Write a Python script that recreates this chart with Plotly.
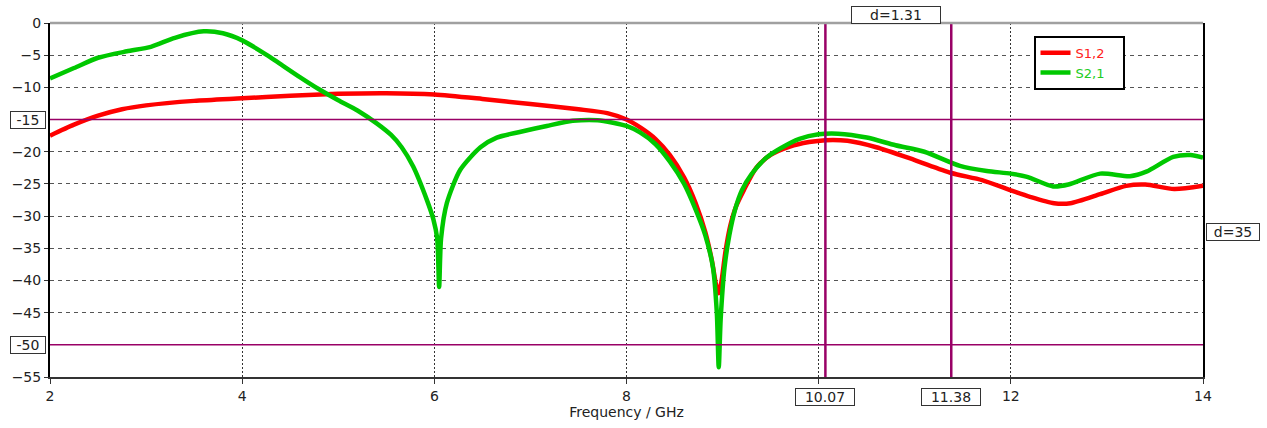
import plotly.graph_objects as go

# ---- data ----
freq_s12 = [2.0, 2.25, 2.5, 2.75, 3.0, 3.5, 4.0, 4.5, 5.0, 5.5, 6.0, 6.5, 7.0, 7.5, 7.8, 8.0,
            8.15, 8.3, 8.45, 8.6, 8.72, 8.82, 8.89, 8.93, 8.96, 8.99, 9.03, 9.08, 9.14, 9.22,
            9.35, 9.5, 9.7, 9.9, 10.07, 10.3, 10.6, 11.0, 11.38, 11.7, 12.0, 12.2, 12.45,
            12.62, 12.93, 13.2, 13.4, 13.7, 14.0]
s12 = [-17.5, -15.8, -14.4, -13.4, -12.8, -12.1, -11.7, -11.3, -11.0, -10.9, -11.1, -11.8,
       -12.6, -13.4, -14.0, -15.0, -16.3, -18.0, -20.5, -24.0, -28.0, -32.5, -37.0, -40.5,
       -42.0, -40.0, -35.5, -31.5, -28.5, -26.0, -22.5, -20.5, -19.2, -18.5, -18.2, -18.3,
       -19.3, -21.3, -23.3, -24.4, -26.0, -27.0, -28.0, -28.0, -26.6, -25.3, -25.1, -25.8,
       -25.3]

freq_s21 = [2.0, 2.25, 2.5, 2.8, 3.05, 3.3, 3.6, 3.8, 4.0, 4.25, 4.4, 4.6, 4.8, 5.0, 5.2,
            5.4, 5.55, 5.66, 5.78, 5.92, 5.99, 6.03, 6.05, 6.07, 6.13, 6.27, 6.48, 6.65,
            6.9, 7.17, 7.44, 7.7, 7.86, 8.0, 8.14, 8.3, 8.45, 8.6, 8.72, 8.82, 8.9, 8.94,
            8.96, 8.98, 9.02, 9.07, 9.13, 9.2, 9.3, 9.45, 9.6, 9.8, 10.0, 10.2, 10.5, 10.8,
            11.1, 11.47, 11.75, 12.0, 12.17, 12.44, 12.6, 12.93, 13.24, 13.41, 13.69, 13.87,
            14.0]
s21 = [-8.6, -7.0, -5.4, -4.4, -3.7, -2.3, -1.3, -1.6, -2.7, -4.9, -6.4, -8.4, -10.3, -12.0,
       -13.6, -15.6, -17.4, -19.3, -22.3, -27.4, -30.5, -33.5, -41.0, -33.5, -28.0, -22.8,
       -19.3, -17.8, -16.9, -16.0, -15.2, -15.1, -15.5, -16.0, -17.0, -18.8, -21.5, -25.0,
       -29.0, -33.0, -38.0, -45.0, -53.5, -46.0, -38.0, -33.0, -29.0, -26.0, -23.5, -21.0,
       -19.5, -18.0, -17.3, -17.2, -17.8, -19.0, -20.0, -22.2, -23.0, -23.4, -23.9, -25.4,
       -25.1, -23.4, -23.8, -23.1, -20.8, -20.5, -20.9]

x_ticks = [2, 4, 6, 8, 10, 12, 14]
x_tick_text = ["2", "4", "6", "8", "", "12", "14"]
y_ticks = [0, -5, -10, -20, -25, -30, -35, -40, -45, -55]

marker_x = [10.07, 11.38]
marker_y = [-15, -50]

FONT = "DejaVu Sans"
PURPLE = "#990066"
NB = "\u00a0"

fig = go.Figure()
fig.add_trace(go.Scatter(x=freq_s12, y=s12, mode="lines",
                         name="<span style='color:#ff2020'>S1,2</span>" + NB * 3,
                         line=dict(color="#ff0000", width=4.5, shape="spline", smoothing=0.7)))
fig.add_trace(go.Scatter(x=freq_s21, y=s21, mode="lines",
                         name="<span style='color:#22cc22'>S2,1</span>" + NB * 3,
                         line=dict(color="#00c800", width=4.5, shape="spline", smoothing=0.7)))

# marker lines
for mx in marker_x:
    fig.add_shape(type="line", xref="x", yref="paper", x0=mx, x1=mx, y0=0, y1=1,
                  line=dict(color=PURPLE, width=2.5), layer="above")
for my in marker_y:
    fig.add_shape(type="line", xref="paper", yref="y", x0=0, x1=1, y0=my, y1=my,
                  line=dict(color=PURPLE, width=1.5), layer="above")
# top border (gray)
fig.add_shape(type="line", xref="paper", yref="paper", x0=0, x1=1, y0=1, y1=1,
              line=dict(color="#a0a0a0", width=2.5))

box = dict(bordercolor="#333333", borderwidth=1, borderpad=1, bgcolor="white",
           font=dict(family=FONT, size=14, color="#222222"), showarrow=False,
           height=14, align="center")
for mx in marker_x:
    fig.add_annotation(x=mx, y=0, xref="x", yref="paper", yshift=-20, width=56,
                       text=f"{mx:.2f}", xanchor="center", yanchor="middle", **box)
for my in marker_y:
    fig.add_annotation(x=0, y=my, xref="paper", yref="y", xshift=-22, width=32,
                       text=f"{my}", xanchor="center", yanchor="middle", **box)
fig.add_annotation(x=(marker_x[0] + marker_x[1]) / 2, y=1, xref="x", yref="paper",
                   xshift=8, yshift=8, width=86, text=f"d={marker_x[1] - marker_x[0]:.2f}",
                   xanchor="center", yanchor="middle", **box)
fig.add_annotation(x=1, y=(marker_y[0] + marker_y[1]) / 2, xref="paper", yref="y",
                   xshift=30, width=50, text=f"d={abs(marker_y[0] - marker_y[1])}",
                   xanchor="center", yanchor="middle", **box)

fig.update_layout(
    width=1267, height=428,
    margin=dict(l=50, r=64, t=23, b=43),
    paper_bgcolor="white", plot_bgcolor="white",
    font=dict(family=FONT, size=14, color="#222222"),
    showlegend=True,
    legend=dict(x=0.853, y=0.964, xanchor="left", yanchor="top",
                bgcolor="white", bordercolor="black", borderwidth=2,
                font=dict(family=FONT, size=13), tracegroupgap=0,
                itemwidth=30),
    xaxis=dict(range=[2, 14], tickvals=x_ticks, ticktext=x_tick_text,
               showgrid=True, gridcolor="#333333", griddash="2px,2px", gridwidth=1,
               showline=True, linecolor="#333333", linewidth=1.5, mirror=False,
               ticks="outside", ticklen=5, tickcolor="#333333",
               zeroline=False,
               title=dict(text="Frequency / GHz", font=dict(family=FONT, size=14), standoff=3)),
    yaxis=dict(range=[-55, 0], tickvals=y_ticks,
               showgrid=True, gridcolor="#555555", griddash="4px,4px", gridwidth=1,
               showline=True, linecolor="black", linewidth=2, mirror=True,
               ticks="outside", ticklen=4, tickcolor="#333333",
               zeroline=False),
)

fig.write_html("out.html")
